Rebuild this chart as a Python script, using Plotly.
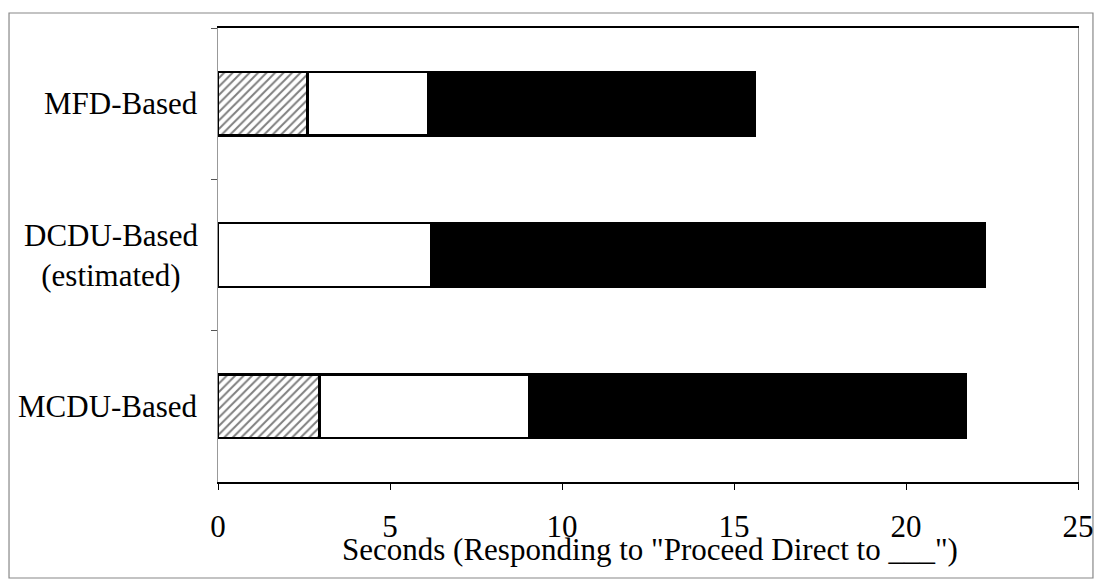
import plotly.graph_objects as go

categories = ["MFD-Based", "DCDU-Based<br>(estimated)", "MCDU-Based"]
seg_hatched = [2.6, 0.0, 2.95]
seg_white = [3.5, 6.2, 6.1]
seg_black = [9.5, 16.1, 12.7]
x_ticks = [0, 5, 10, 15, 20, 25]
x_title = 'Seconds (Responding to "Proceed Direct to ___")'

FONT = "Liberation Serif, Times New Roman, serif"

fig = go.Figure()
fig.add_trace(go.Bar(
    y=categories, x=seg_hatched, orientation="h", name="hatched",
    marker=dict(color="white", line=dict(color="black", width=2.5),
                pattern=dict(shape="/", fgcolor="black", bgcolor="white", size=6, solidity=0.33)),
))
fig.add_trace(go.Bar(
    y=categories, x=seg_white, orientation="h", name="white",
    marker=dict(color="white", line=dict(color="black", width=2.5)),
))
fig.add_trace(go.Bar(
    y=categories, x=seg_black, orientation="h", name="black",
    marker=dict(color="black", line=dict(color="black", width=2.5)),
))

for c in categories:
    fig.add_annotation(x=-0.0215, xref="paper", y=c, yref="y", text=c,
                       showarrow=False, xanchor="right", yanchor="middle", align="center",
                       font=dict(family=FONT, size=31, color="black"))

fig.add_annotation(x=0.502, xref="paper", y=-0.148, yref="paper", text=x_title,
                   showarrow=False, xanchor="center", yanchor="middle",
                   font=dict(family=FONT, size=31, color="black"))

fig.update_layout(
    barmode="stack", bargap=0.58, showlegend=False,
    width=1101, height=579,
    margin=dict(l=218, r=23, t=28, b=97, autoexpand=False),
    paper_bgcolor="white", plot_bgcolor="white",
    font=dict(family=FONT, size=31, color="black"),
    xaxis=dict(range=[0, 25], tickvals=x_ticks, ticktext=[str(v) for v in x_ticks],
               automargin=False,
               showgrid=False, zeroline=False, showline=True, linecolor="black", linewidth=1.5,
               mirror=True, ticks="outside", ticklen=6, tickcolor="black",
               ticklabelstandoff=10),
    yaxis=dict(categoryorder="array", categoryarray=categories, autorange="reversed",
               automargin=False,
               showticklabels=False, tickson="boundaries", ticks="outside", ticklen=6,
               tickcolor="#555", showgrid=False, zeroline=False,
               showline=True, linecolor="#999", linewidth=1, mirror=True),
)

fig.add_shape(type="rect", xref="paper", yref="paper",
              x0=-0.243, x1=1.0174, y0=-0.2115, y1=1.033,
              line=dict(color="#888", width=1.2), fillcolor="rgba(0,0,0,0)", layer="below")

fig.write_html("out.html", config={"displayModeBar": False},
               post_script="document.body.style.margin='0';")
